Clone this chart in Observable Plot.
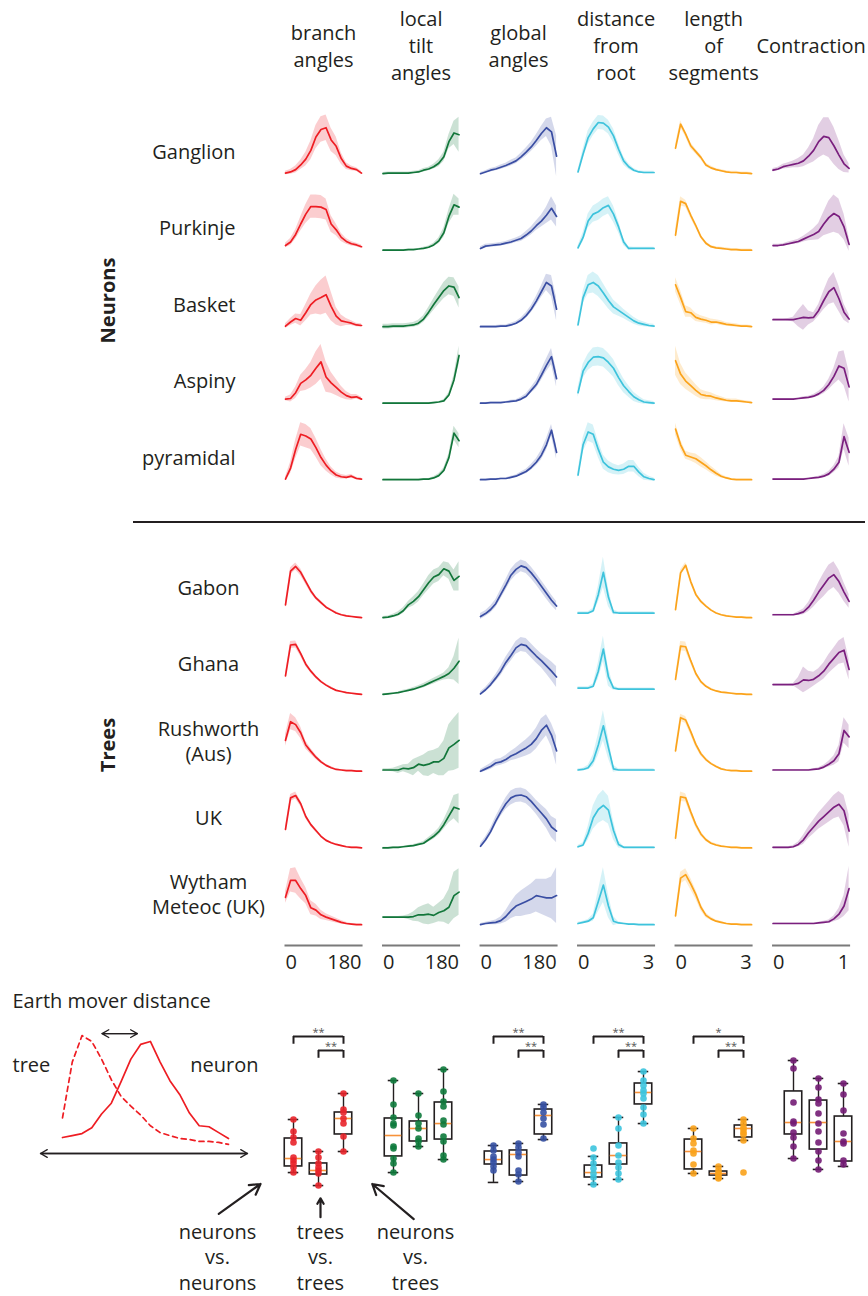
<!DOCTYPE html>
<html><head><meta charset="utf-8">
<script src="https://cdn.jsdelivr.net/npm/d3@7"></script>
<script src="https://cdn.jsdelivr.net/npm/@observablehq/plot@0.6"></script>
<style>
html,body{margin:0;padding:0;background:#fff;}
#root{position:relative;width:868px;height:1296px;font-family:"Open Sans",sans-serif;color:#231f20;overflow:hidden;background:#fff}
.layer{position:absolute;left:0;width:868px}
#sep{position:absolute;left:133px;top:521px;width:732px;height:0;border-top:2px solid #231f20}
</style></head><body>
<div id="root">
 <div id="neurons" class="layer" style="top:0"></div>
 <div id="sep"></div>
 <div id="trees" class="layer" style="top:530px"></div>
 <div id="axis" class="layer" style="top:940px"></div>
 <div id="emd" class="layer" style="top:985px;width:280px"></div>
 <div id="box" class="layer" style="top:1015px"></div>
</div>
<script>
// ---------------- data ----------------
const features = ["branch angles", "local tilt angles", "global angles", "distance from root", "length of segments", "Contraction"];
const featureHeaders = ["branch\nangles", "local\ntilt\nangles", "global\nangles", "distance\nfrom\nroot", "length\nof\nsegments", "Contraction"];
const neuronTypes = ["Ganglion", "Purkinje", "Basket", "Aspiny", "pyramidal"];
const treeSites = ["Gabon", "Ghana", "Rushworth (Aus)", "UK", "Wytham Meteoc (UK)"];
const treeLabels = ["Gabon", "Ghana", "Rushworth\n(Aus)", "UK", "Wytham\nMeteoc (UK)"];
const axisStartTicks = ["0", "0", "0", "0", "0", "0"];
const axisEndTicks = ["180", "180", "180", "3", "3", "1"];

// normalised histograms (16 bins, 0-100 of row height): mean and half-width of the shaded band
const ganglionMean = [
 [1,3,7,15,25,40,63,76,79,58,47,26,13,9,7,1],
 [0,1,1,1,1,1,2,3,6,8,12,18,29,55,70,67],
 [0,3,6,8,11,14,18,22,29,37,46,57,69,79,72,30],
 [3,34,62,77,88,87,80,65,42,22,12,6,3,2,2,2],
 [44,85,68,48,38,28,15,10,7,5,3,2,2,1,1,0],
 [6,8,12,14,16,18,22,30,40,55,64,62,48,32,17,9]];
const ganglionSpread = [
 [3,4,6,8,12,16,20,22,22,20,16,10,6,4,3,3],
 [2,2,2,2,2,2,2,2,3,3,4,6,8,12,20,30],
 [2,2,3,3,4,4,5,5,6,7,8,10,12,15,25,35],
 [3,8,12,12,12,12,12,12,10,7,5,3,2,2,2,2],
 [6,6,5,5,4,4,3,3,2,2,2,2,2,2,2,2],
 [3,3,4,5,6,8,10,14,20,28,32,34,32,25,15,8]];
const purkinjeMean = [
 [8,14,27,45,62,75,75,74,70,45,35,22,15,11,9,6],
 [0,0,0,0,0,1,1,2,3,5,9,16,30,58,78,74],
 [3,7,8,9,10,12,14,17,20,26,33,42,50,60,72,58],
 [4,22,50,62,66,73,77,62,40,14,3,3,3,3,3,3],
 [26,84,80,60,42,23,12,6,4,3,2,1,1,0,0,0],
 [8,8,9,11,13,15,19,23,27,32,45,56,63,58,40,10]];
const purkinjeSpread = [
 [4,6,8,12,16,20,20,20,18,14,10,7,5,4,3,3],
 [1,1,1,1,1,1,1,1,2,2,3,5,8,12,18,14],
 [3,3,3,3,3,3,4,4,5,6,7,8,10,14,20,18],
 [3,8,12,14,15,15,15,14,10,6,3,2,2,2,2,2],
 [10,8,6,5,4,3,3,2,2,2,2,2,2,2,2,2],
 [2,2,2,3,3,4,5,7,10,14,20,28,32,30,22,12]];
const basketMean = [
 [1,8,14,11,24,38,46,50,55,35,18,10,8,6,3,2],
 [0,0,1,1,1,2,3,6,13,25,38,50,62,70,68,50],
 [0,0,0,0,1,1,3,6,11,19,30,44,60,76,70,30],
 [3,50,72,76,70,58,45,34,28,22,16,10,6,4,2,1],
 [72,50,26,24,16,13,11,8,8,6,4,3,2,1,1,0],
 [12,12,12,12,12,14,16,15,16,28,45,60,67,48,25,13]];
const basketSpread = [
 [4,6,8,10,14,18,24,30,32,25,15,10,6,4,3,3],
 [4,4,4,4,4,4,4,5,6,8,10,12,14,15,16,18],
 [2,2,2,2,2,2,3,3,4,5,6,8,10,14,18,20],
 [4,10,16,18,18,16,14,12,10,8,7,6,5,4,3,3],
 [12,12,10,8,7,6,5,5,4,4,3,3,3,2,2,2],
 [1,1,1,2,4,14,22,12,8,10,16,22,26,22,14,8]];
const aspinyMean = [
 [7,8,18,34,40,48,60,71,45,35,27,19,13,10,11,7],
 [0,0,0,0,0,0,0,0,0,0,1,2,4,14,40,82],
 [0,0,1,1,1,2,3,4,7,12,22,32,48,65,80,42],
 [18,55,70,79,80,78,70,60,44,30,20,11,6,2,1,0],
 [73,50,38,30,22,15,13,12,9,7,5,4,4,3,2,1],
 [7,7,7,7,7,8,9,10,12,16,22,32,46,64,60,28]];
const aspinySpread = [
 [3,6,10,14,18,22,28,30,26,18,14,10,7,5,4,3],
 [1,1,1,1,1,1,1,1,1,1,1,1,2,4,8,16],
 [1,1,1,1,1,1,2,2,3,4,5,7,9,11,14,14],
 [8,12,14,16,16,16,16,15,14,12,10,8,6,4,3,3],
 [25,18,14,12,10,8,7,6,5,4,3,3,3,2,2,2],
 [1,1,1,1,1,1,2,2,3,4,6,9,14,24,30,26]];
const pyramidalMean = [
 [1,20,52,78,75,70,55,38,25,15,8,5,4,6,2,1],
 [0,0,0,0,0,0,0,0,1,1,3,7,16,38,80,67],
 [0,0,1,1,2,2,4,6,10,14,21,30,42,60,85,47],
 [8,60,82,78,52,30,22,18,16,18,23,23,13,5,2,0],
 [87,60,42,39,36,30,24,17,11,6,3,1,0,0,0,0],
 [1,1,1,1,1,1,1,2,3,4,6,10,18,30,74,47]];
const pyramidalSpread = [
 [3,10,16,20,20,18,16,14,10,7,5,4,3,3,2,2],
 [1,1,1,1,1,1,1,1,1,1,2,3,4,6,12,12],
 [1,1,1,1,1,1,2,2,3,4,5,6,8,10,10,12],
 [6,12,16,16,14,12,10,9,8,9,10,10,8,6,4,3],
 [10,8,7,7,8,8,7,6,5,3,2,1,1,1,1,1],
 [1,1,1,1,1,1,1,1,1,2,3,4,6,10,22,24]];

const gabonMean = [
 [22,80,88,78,62,46,34,26,18,13,8,5,3,2,1,0],
 [0,1,3,6,12,22,28,36,48,60,70,74,84,80,64,71],
 [2,7,14,24,40,56,73,83,89,86,77,66,54,42,30,20],
 [8,8,8,12,40,78,35,9,8,8,8,8,8,8,8,8],
 [14,77,90,62,40,28,20,13,8,5,3,2,1,1,0,0],
 [5,5,5,5,5,7,10,18,30,44,56,68,74,62,44,28]];
const gabonSpread = [
 [6,6,6,6,5,4,3,3,2,2,2,1,1,1,1,1],
 [2,2,3,4,5,6,8,9,10,12,12,12,12,14,18,25],
 [5,5,6,7,8,9,10,10,10,10,10,10,10,10,9,8],
 [2,2,2,4,14,26,16,4,2,2,2,2,2,2,2,2],
 [4,5,5,4,3,3,2,2,1,1,1,1,1,1,1,1],
 [1,1,1,1,1,3,5,8,12,16,20,22,22,20,16,12]];
const ghanaMean = [
 [32,85,86,70,52,40,30,22,16,11,7,5,3,2,1,0],
 [0,1,2,3,5,7,9,12,15,19,23,27,31,36,45,57],
 [1,8,17,28,40,55,67,80,86,84,75,66,58,49,40,30],
 [11,11,11,14,40,78,30,11,9,9,9,9,9,9,9,9],
 [26,83,82,58,36,22,14,9,6,4,3,2,1,1,0,0],
 [17,17,17,17,17,19,25,24,26,32,40,52,62,72,76,43]];
const ghanaSpread = [
 [5,6,6,5,4,3,3,2,2,2,1,1,1,1,1,1],
 [1,1,1,1,2,2,3,3,4,4,5,5,6,10,20,40],
 [3,4,5,6,8,9,10,11,12,12,12,12,12,14,16,18],
 [2,2,2,4,14,22,16,4,2,2,2,2,2,2,2,2],
 [6,8,8,5,4,3,2,2,1,1,1,1,1,1,1,1],
 [1,1,1,1,2,10,22,16,12,12,14,16,18,20,22,18]];
const rushworthMean = [
 [53,85,80,66,45,34,24,16,10,6,3,2,1,1,0,0],
 [2,2,2,2,5,4,6,12,10,12,16,16,22,40,46,53],
 [0,4,8,14,16,20,26,30,35,40,46,56,70,79,62,35],
 [2,3,6,18,45,78,40,4,2,2,2,2,2,2,2,2],
 [35,92,88,68,46,30,20,13,8,4,2,1,1,0,0,0],
 [2,2,2,2,2,2,2,2,3,4,7,12,18,30,70,59]];
const rushworthSpread = [
 [10,14,12,10,7,5,4,3,2,2,1,1,1,1,1,1],
 [2,2,3,6,6,8,14,12,18,22,20,24,30,40,45,48],
 [3,4,5,6,6,7,8,10,12,14,16,18,20,18,20,25],
 [2,2,4,10,18,26,18,6,2,2,2,2,2,2,2,2],
 [6,6,6,6,5,4,3,2,2,1,1,1,1,1,1,1],
 [1,1,1,1,1,1,1,1,1,2,3,5,8,14,22,20]];
const ukMean = [
 [32,86,90,76,54,40,30,20,13,9,6,4,2,1,1,0],
 [0,0,1,1,2,3,4,6,8,14,20,28,40,55,70,67],
 [3,14,28,46,62,76,86,90,91,88,80,70,60,50,36,29],
 [2,5,25,52,66,73,65,30,6,1,1,1,1,1,1,1],
 [17,88,86,62,40,24,14,8,5,3,2,1,1,0,0,0],
 [1,1,1,1,2,6,14,26,36,46,54,62,70,75,64,29]];
const ukSpread = [
 [5,6,6,5,4,3,3,2,2,1,1,1,1,1,1,1],
 [1,1,1,1,1,1,2,2,3,4,5,6,8,12,20,26],
 [4,5,6,7,8,10,12,12,12,12,12,12,14,16,18,20],
 [2,4,12,20,24,26,24,16,6,2,1,1,1,1,1,1],
 [8,8,7,6,5,4,3,2,2,1,1,1,1,1,1,1],
 [1,1,1,1,2,4,8,10,12,14,16,18,20,22,26,28]];
const wythamMean = [
 [47,76,76,62,50,29,25,17,13,10,7,4,2,1,0,0],
 [13,13,13,13,13,13,14,17,17,18,16,21,24,30,50,56],
 [0,2,3,4,7,14,24,32,36,40,44,50,48,46,46,50],
 [2,4,6,12,40,68,32,6,3,2,1,1,0,0,0,0],
 [15,80,86,70,52,30,16,10,6,4,2,1,1,0,0,0],
 [2,2,2,2,2,2,2,2,2,3,4,5,10,18,32,62]];
const wythamSpread = [
 [10,20,22,18,14,12,10,8,6,5,4,3,2,1,1,1],
 [1,1,1,1,2,4,8,12,16,18,14,16,20,30,40,40],
 [2,2,3,4,6,10,14,18,22,24,26,28,30,32,36,48],
 [2,2,3,6,18,30,20,8,2,1,1,1,1,1,1,1],
 [6,10,10,10,8,6,4,3,2,2,1,1,1,1,1,1],
 [1,1,1,1,1,1,1,1,1,1,2,3,5,10,18,38]];

// Earth mover distance illustration (branch angles: neuron vs tree)
const emdNeuron = [1,3,5,11,25,36,58,81,96,99,78,59,45,26,13,12,6,0];
const emdTree = [21,78,105,99,81,60,43,33,24,13,6,3,0,-1,-3,-3,-4,-6];

// EMD box plots: per feature, three comparisons (neurons vs neurons, trees vs trees, neurons vs trees)
const comparisons = ["neurons vs. neurons", "trees vs. trees", "neurons vs. trees"];
const emdLow    = [[.138,.038,.30],[.138,.338,.238],[.062,.069,.392],[.046,.085,.515],[.131,.092,.385],[.246,.162,.185]];
const emdQ1     = [[.185,.123,.431],[.262,.377,.392],[.20,.115,.431],[.10,.20,.662],[.162,.115,.408],[.431,.315,.223]];
const emdMedian = [[.246,.154,.554],[.423,.477,.515],[.238,.277,.577],[.138,.269,.754],[.30,.131,.477],[.523,.523,.377]];
const emdQ3     = [[.40,.208,.60],[.554,.531,.677],[.30,.308,.623],[.192,.362,.823],[.392,.146,.50],[.762,.692,.569]];
const emdHigh   = [[.546,.30,.746],[.846,.746,.931],[.346,.362,.662],[.262,.562,.915],[.477,.185,.546],[1.0,.862,.823]];
const emdPoints = [
 [[.546,.454,.408,.369,.254,.231,.208,.177,.138],[.30,.254,.208,.177,.154,.131,.038],[.746,.623,.60,.554,.515,.415,.30]],
 [[.846,.662,.562,.515,.50,.338,.323,.246,.208,.138],[.746,.577,.515,.477,.40,.377,.338],[.931,.762,.685,.646,.538,.508,.415,.377,.269,.238]],
 [[.346,.308,.262,.238,.215,.185,.154],[.362,.331,.292,.262,.154,.123,.069],[.662,.638,.60,.554,.508,.40]],
 [[.323,.254,.208,.169,.131,.10,.046],[.562,.477,.346,.269,.215,.177,.131,.085],[.915,.846,.808,.769,.746,.708,.638,.585,.515]],
 [[.477,.40,.362,.308,.285,.20,.131],[.185,.154,.131,.123,.10,.092],[.546,.515,.485,.469,.446,.431,.385,.138]],
 [[1.0,.938,.677,.531,.515,.446,.408,.338,.246],[.862,.792,.70,.669,.592,.515,.454,.369,.30,.231,.162],[.823,.738,.615,.438,.377,.362,.231,.20]]];
// significance: neurons-vs-neurons / trees-vs-trees compared with neurons-vs-trees
const sigFeatures = ["branch angles", "global angles", "distance from root", "length of segments"];
const sigOuterLabels = ["**", "**", "**", "*"];
const sigInnerLabels = ["**", "**", "**", "**"];
// annotation (in the first box-plot panel, data units)
const annotationText = ["neurons\nvs.\nneurons", "trees\nvs.\ntrees", "neurons\nvs.\ntrees"];
const annotationX = [-3.04, 1.08, 4.88];
const annotationArrows = [
 {x1: -2.99, y1: -0.18, x2: -1.32, y2: 0.05},
 {x1: 1.08, y1: -0.205, x2: 1.08, y2: -0.06},
 {x1: 4.81, y1: -0.22, x2: 3.15, y2: 0.05}];

// ---------------- style ----------------
const INK = "#231f20";
const FONT = "'Open Sans', 'Noto Sans', sans-serif";
const lineColors = ["#ee1d23", "#12763a", "#3a4ea3", "#3ec3dc", "#fba31b", "#7a1f7e"];
const dotColors = ["#e8242a", "#0e7a3c", "#3651a3", "#3cc4de", "#f9a21b", "#731c74"];
const svgStyle = {background: "transparent", fontFamily: FONT, overflow: "visible", color: INK};

function tidy(rows, means, spreads) {
  const out = [];
  rows.forEach((row, r) => features.forEach((feature, f) => means[r][f].forEach((m, i) => {
    const s = spreads[r][f][i];
    out.push({row, feature, i, mean: m, lo: Math.max(m - s, -9), hi: m + s});
  })));
  return out;
}

function grid(rows, labels, means, spreads, o) {
  const data = tidy(rows, means, spreads);
  const rowLabels = rows.map((row, k) => ({row, label: labels[k]}));
  const marks = [
    Plot.areaY(data, {x: "i", y1: "lo", y2: "hi", fx: "feature", fy: "row", fill: "feature", fillOpacity: 0.22}),
    Plot.lineY(data, {x: "i", y: "mean", fx: "feature", fy: "row", stroke: "feature", strokeWidth: 1.7}),
    Plot.text(rowLabels, {fx: () => features[0], fy: "row", text: "label", frameAnchor: "left",
      dx: o.labelDx, dy: o.labelDy, textAnchor: o.labelAnchor, lineAnchor: "middle", lineHeight: 1.25,
      fontSize: 20, fill: INK}),
    Plot.text([o.group], {fx: () => features[0], fy: () => rows[2], text: d => d, frameAnchor: "left",
      dx: -177, rotate: -90, textAnchor: "middle", lineAnchor: "middle", fontWeight: "bold", fontSize: 20, fill: INK})
  ];
  if (o.header) marks.push(
    Plot.text(features, {fx: d => d, fy: () => rows[0], text: (d, i) => featureHeaders[i], frameAnchor: "top",
      dy: -71, lineAnchor: "middle", lineHeight: 1.35, fontSize: 20, fill: INK}));
  return Plot.plot({
    width: 868, height: o.height,
    marginLeft: 285, marginRight: 19.4, marginTop: o.top, marginBottom: 5,
    style: svgStyle,
    fx: {domain: features, paddingInner: 0.22, paddingOuter: 0, round: false, axis: null},
    fy: {domain: rows, paddingInner: o.padY, paddingOuter: 0, round: false, axis: null},
    x: {domain: [0, 15], axis: null},
    y: {domain: [-10, 100], axis: null},
    color: {domain: features, range: lineColors},
    marks
  });
}

document.getElementById("neurons").append(grid(neuronTypes, neuronTypes, 
  [ganglionMean, purkinjeMean, basketMean, aspinyMean, pyramidalMean],
  [ganglionSpread, purkinjeSpread, basketSpread, aspinySpread, pyramidalSpread],
  {height: 490, top: 115, padY: 12.5 / 76.5, labelDx: -50, labelDy: 3, labelAnchor: "end", group: "Neurons", header: true}));

document.getElementById("trees").append(grid(treeSites, treeLabels,
  [gabonMean, ghanaMean, rushworthMean, ukMean, wythamMean],
  [gabonSpread, ghanaSpread, rushworthSpread, ukSpread, wythamSpread],
  {height: 405, top: 29, padY: 12.75 / 76.75, labelDx: -77, labelDy: -5, labelAnchor: "middle", group: "Trees", header: false}));

// bottom axis
document.getElementById("axis").append(Plot.plot({
  width: 868, height: 40, marginLeft: 285, marginRight: 19.4, marginTop: 5, marginBottom: 5,
  style: svgStyle,
  fx: {domain: features, paddingInner: 0.22, paddingOuter: 0, round: false, axis: null},
  x: {domain: [0, 15], axis: null},
  marks: [
    Plot.frame({anchor: "top", stroke: "#7a7a7a", strokeWidth: 2}),
    Plot.text(features, {fx: d => d, text: (d, i) => axisStartTicks[i], frameAnchor: "top-left", textAnchor: "start", lineAnchor: "middle", dy: 17, fontSize: 20, fill: INK}),
    Plot.text(features, {fx: d => d, text: (d, i) => axisEndTicks[i], frameAnchor: "top-right", textAnchor: "end", lineAnchor: "middle", dy: 17, fontSize: 20, fill: INK})
  ]
}));

// EMD illustration
const argmax = a => a.indexOf(d3.max(a));
const last = emdNeuron.length - 1;
document.getElementById("emd").append(Plot.plot({
  width: 280, height: 185, marginLeft: 62, marginRight: 52, marginTop: 55, marginBottom: 32,
  style: svgStyle,
  x: {domain: [0, last], axis: null},
  y: {domain: [0, 100], axis: null},
  marks: [
    Plot.text(["Earth mover distance"], {frameAnchor: "top-left", dx: -50, dy: -39, textAnchor: "start", lineAnchor: "middle", fontSize: 20, fill: INK}),
    Plot.lineY(emdTree, {x: (d, i) => i, y: d => d, stroke: lineColors[0], strokeWidth: 1.7, strokeDasharray: "5,4"}),
    Plot.lineY(emdNeuron, {x: (d, i) => i, y: d => d, stroke: lineColors[0], strokeWidth: 1.7}),
    Plot.text(["tree"], {frameAnchor: "top-left", dx: -50, dy: 25, textAnchor: "start", lineAnchor: "middle", fontSize: 20, fill: INK}),
    Plot.text(["neuron"], {frameAnchor: "top-right", dx: 30, dy: 25, textAnchor: "end", lineAnchor: "middle", fontSize: 20, fill: INK}),
    Plot.arrow([0], {x1: () => argmax(emdTree), x2: () => argmax(emdNeuron), y1: () => d3.max(emdTree), y2: () => d3.max(emdTree),
      insetStart: 20, insetEnd: 13, dy: -2, stroke: INK, strokeWidth: 1.3, headLength: 9}),
    Plot.arrow([0], {x1: () => argmax(emdNeuron), x2: () => argmax(emdTree), y1: () => d3.max(emdTree), y2: () => d3.max(emdTree),
      insetStart: 13, insetEnd: 20, dy: -2, stroke: INK, strokeWidth: 1.3, headLength: 9}),
    Plot.arrow([0], {x1: 0, x2: last, y1: 0, y2: 0, insetStart: -22, insetEnd: -19, dy: 15, stroke: INK, strokeWidth: 1.3, headLength: 9}),
    Plot.arrow([0], {x1: last, x2: 0, y1: 0, y2: 0, insetStart: -19, insetEnd: -22, dy: 15, stroke: INK, strokeWidth: 1.3, headLength: 9})
  ]
}));

// box plots
const boxes = [], points = [], brackets = [];
features.forEach((feature, f) => comparisons.forEach((c, b) => {
  boxes.push({feature, i: b, lo: emdLow[f][b], q1: emdQ1[f][b], med: emdMedian[f][b], q3: emdQ3[f][b], hi: emdHigh[f][b]});
  emdPoints[f][b].forEach(v => points.push({feature, i: b, v}));
}));
sigFeatures.forEach((feature, k) => {
  brackets.push({feature, from: 0, to: 2, level: 1.185, label: sigOuterLabels[k]});
  brackets.push({feature, from: 1, to: 2, level: 1.077, label: sigInnerLabels[k]});
});
const first = () => features[0];
document.getElementById("box").append(Plot.plot({
  width: 868, height: 281, marginLeft: 280.5, marginRight: 12.5, marginTop: 6, marginBottom: 106,
  style: svgStyle,
  fx: {domain: features, paddingInner: 0.25, paddingOuter: 0, round: false, axis: null},
  x: {domain: [-0.5, 2.5], axis: null},
  y: {domain: [0, 1.3], axis: null},
  color: {domain: features, range: dotColors},
  marks: [
    Plot.ruleX(boxes, {fx: "feature", x: "i", y1: "lo", y2: "hi", stroke: INK, strokeWidth: 1.4}),
    Plot.rect(boxes, {fx: "feature", x1: d => d.i - 0.35, x2: d => d.i + 0.35, y1: "q1", y2: "q3", fill: "white", stroke: INK, strokeWidth: 1.6}),
    Plot.ruleY(boxes, {fx: "feature", y: "med", x1: d => d.i - 0.33, x2: d => d.i + 0.33, stroke: "#f7923a", strokeWidth: 1.6}),
    Plot.ruleY(boxes, {fx: "feature", y: "lo", x1: d => d.i - 0.21, x2: d => d.i + 0.21, stroke: INK, strokeWidth: 1.6}),
    Plot.ruleY(boxes, {fx: "feature", y: "hi", x1: d => d.i - 0.21, x2: d => d.i + 0.21, stroke: INK, strokeWidth: 1.6}),
    Plot.dot(points, {fx: "feature", x: "i", y: "v", fill: "feature", r: 3.3, fillOpacity: 0.9}),
    Plot.ruleY(brackets, {fx: "feature", y: "level", x1: "from", x2: "to", stroke: INK, strokeWidth: 2}),
    Plot.ruleX(brackets, {fx: "feature", x: "from", y1: d => d.level - 0.06, y2: "level", stroke: INK, strokeWidth: 2}),
    Plot.ruleX(brackets, {fx: "feature", x: "to", y1: d => d.level - 0.06, y2: "level", stroke: INK, strokeWidth: 2}),
    Plot.text(brackets, {fx: "feature", x: d => (d.from + d.to) / 2, y: "level", dy: -4, text: "label", fontSize: 11, fill: "#555"}),
    Plot.arrow(annotationArrows, {fx: first, x1: "x1", y1: "y1", x2: "x2", y2: "y2", stroke: INK, strokeWidth: 2.2, headLength: 8}),
    Plot.text(annotationText, {fx: first, x: (d, k) => annotationX[k], y: () => -0.505, text: d => d,
      lineAnchor: "middle", lineHeight: 1.27, fontSize: 20, fill: INK})
  ]
}));
</script>
</body></html>
